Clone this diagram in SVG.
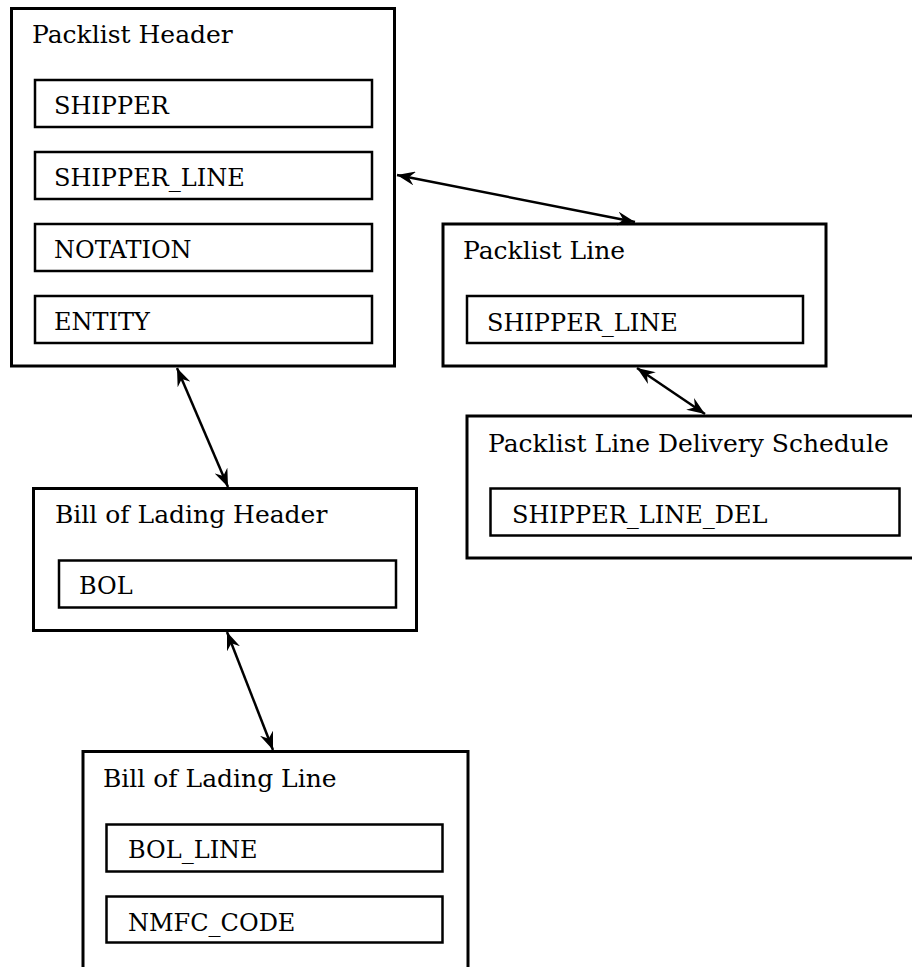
<svg xmlns="http://www.w3.org/2000/svg" width="912" height="967" viewBox="0 0 912 967">
<style>
.outer{fill:#fff;stroke:#000;stroke-width:3}
.inner{fill:#fff;stroke:#000;stroke-width:2.5}
.t{font-family:"DejaVu Serif","Liberation Serif",serif;font-size:25px;fill:#000}
.f{font-family:"DejaVu Serif","Liberation Serif",serif;font-size:24px;fill:#000}
.c{stroke:#000;stroke-width:2.5;fill:none;marker-start:url(#ah);marker-end:url(#ah)}
</style>
<defs>
<marker id="ah" viewBox="-18 -7 18 14" refX="0" refY="0" markerWidth="18" markerHeight="14" markerUnits="userSpaceOnUse" orient="auto-start-reverse">
<path d="M0,0 L-18,-7 L-12,0 L-18,7 Z" fill="#000"/>
</marker>
</defs>
<rect width="912" height="967" fill="#fff"/>
<g id="packlist-header">
<rect class="outer" x="11.5" y="8.5" width="383" height="357.5"/>
<text class="t" x="32" y="43">Packlist Header</text>
<rect class="inner" x="35" y="80" width="337" height="47"/>
<text class="f" x="54" y="114">SHIPPER</text>
<rect class="inner" x="35" y="152" width="337" height="47"/>
<text class="f" x="54" y="186">SHIPPER_LINE</text>
<rect class="inner" x="35" y="224" width="337" height="47"/>
<text class="f" x="54" y="258">NOTATION</text>
<rect class="inner" x="35" y="296" width="337" height="47"/>
<text class="f" x="54" y="330">ENTITY</text>
</g>
<g id="packlist-line">
<rect class="outer" x="443" y="224" width="383" height="142"/>
<text class="t" x="463" y="259">Packlist Line</text>
<rect class="inner" x="467" y="296" width="336" height="47"/>
<text class="f" x="487" y="331">SHIPPER_LINE</text>
</g>
<g id="packlist-line-delivery-schedule">
<rect class="outer" x="467" y="416" width="460" height="142"/>
<text class="t" x="488" y="452">Packlist Line Delivery Schedule</text>
<rect class="inner" x="490.5" y="488.5" width="409" height="47"/>
<text class="f" x="512" y="523">SHIPPER_LINE_DEL</text>
</g>
<g id="bill-of-lading-header">
<rect class="outer" x="33.5" y="488.5" width="383" height="142"/>
<text class="t" x="55" y="523">Bill of Lading Header</text>
<rect class="inner" x="59" y="560.5" width="337" height="47"/>
<text class="f" x="79" y="594">BOL</text>
</g>
<g id="bill-of-lading-line">
<rect class="outer" x="83" y="751.5" width="385" height="260"/>
<text class="t" x="103" y="787">Bill of Lading Line</text>
<rect class="inner" x="106.5" y="824.5" width="336" height="47"/>
<text class="f" x="128" y="858">BOL_LINE</text>
<rect class="inner" x="106.5" y="896.5" width="336" height="46"/>
<text class="f" x="128" y="931">NMFC_CODE</text>
</g>
<g id="connectors">
<line class="c" x1="397" y1="175" x2="635" y2="222"/>
<line class="c" x1="637" y1="368" x2="705" y2="414"/>
<line class="c" x1="177" y1="368" x2="228" y2="487"/>
<line class="c" x1="227" y1="632" x2="273" y2="750"/>
</g>
</svg>
